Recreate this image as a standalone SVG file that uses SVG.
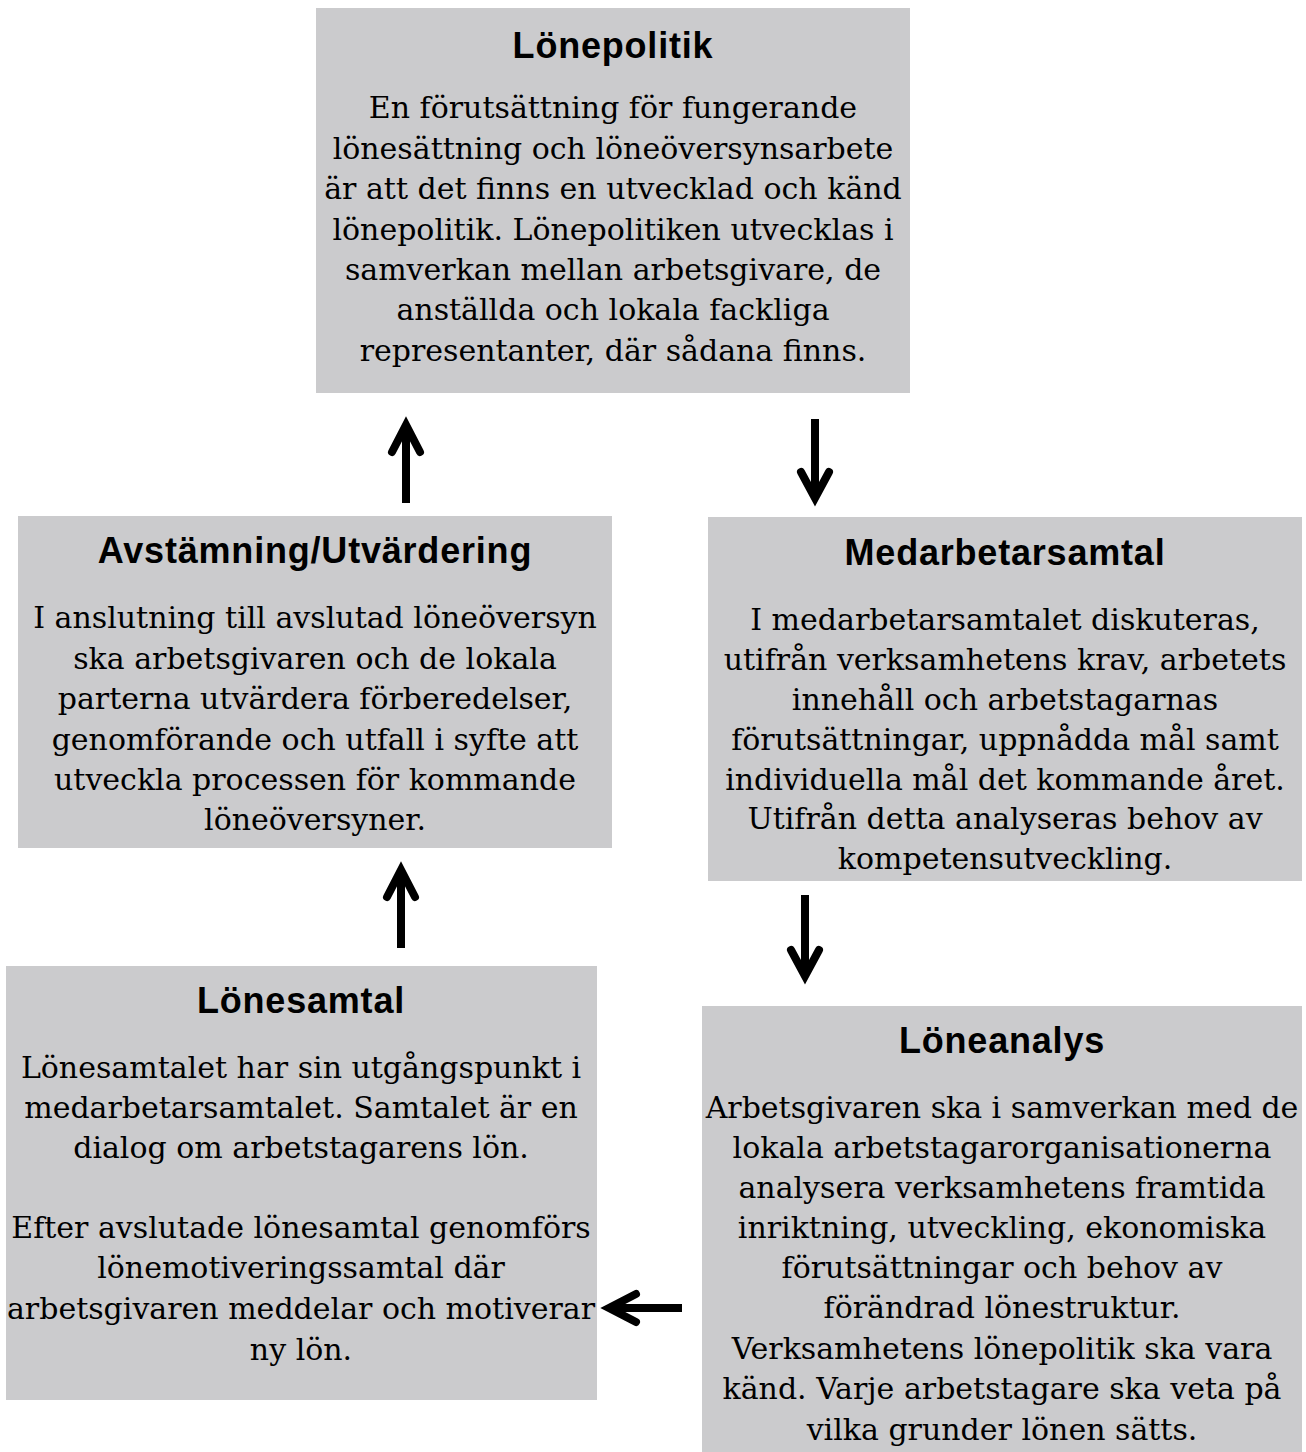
<svg xmlns="http://www.w3.org/2000/svg" width="1306" height="1452" viewBox="0 0 1306 1452">
<style>
.box{fill:#cbcbcd}
.t{font-family:"Liberation Sans",Arial,sans-serif;font-weight:bold;font-size:36px;letter-spacing:0.8px;text-anchor:middle;fill:#000}
.b{font-family:"DejaVu Serif",Georgia,serif;font-size:30px;text-anchor:middle;fill:#000}
.arr{stroke:#000;stroke-width:8;fill:none;stroke-linecap:butt}
.head{stroke:#000;stroke-width:8;fill:none;stroke-linecap:round;stroke-linejoin:miter}
</style>
<rect width="1306" height="1452" fill="#fff"/>
<g id="lonepolitik">
<rect class="box" x="316" y="8" width="594" height="385"/>
<text class="t" x="613" y="58">Lönepolitik</text>
<text class="b" x="613" y="118">En förutsättning för fungerande</text>
<text class="b" x="613" y="159">lönesättning och löneöversynsarbete</text>
<text class="b" x="613" y="199">är att det finns en utvecklad och känd</text>
<text class="b" x="613" y="240">lönepolitik. Lönepolitiken  utvecklas i</text>
<text class="b" x="613" y="280">samverkan mellan arbetsgivare, de</text>
<text class="b" x="613" y="320">anställda och lokala fackliga</text>
<text class="b" x="613" y="361">representanter,  där sådana finns.</text>
</g>
<g id="avstamning">
<rect class="box" x="18" y="516" width="594" height="332"/>
<text class="t" x="315" y="563">Avstämning/Utvärdering</text>
<text class="b" x="315" y="628">I anslutning till avslutad löneöversyn</text>
<text class="b" x="315" y="669">ska arbetsgivaren och de lokala</text>
<text class="b" x="315" y="709">parterna utvärdera förberedelser,</text>
<text class="b" x="315" y="750">genomförande och utfall i syfte att</text>
<text class="b" x="315" y="790">utveckla processen för kommande</text>
<text class="b" x="315" y="830">löneöversyner.</text>
</g>
<g id="medarbetarsamtal">
<rect class="box" x="708" y="517" width="594" height="364"/>
<text class="t" x="1005" y="565">Medarbetarsamtal</text>
<text class="b" x="1005" y="630">I medarbetarsamtalet diskuteras,</text>
<text class="b" x="1005" y="670">utifrån verksamhetens  krav, arbetets</text>
<text class="b" x="1005" y="710">innehåll och arbetstagarnas</text>
<text class="b" x="1005" y="750">förutsättningar, uppnådda mål samt</text>
<text class="b" x="1005" y="790">individuella mål det kommande året.</text>
<text class="b" x="1005" y="829">Utifrån detta analyseras behov av</text>
<text class="b" x="1005" y="869">kompetensutveckling.</text>
</g>
<g id="lonesamtal">
<rect class="box" x="6" y="966" width="591" height="434"/>
<text class="t" x="301" y="1013">Lönesamtal</text>
<text class="b" x="301" y="1078">Lönesamtalet har sin utgångspunkt i</text>
<text class="b" x="301" y="1118">medarbetarsamtalet. Samtalet är en</text>
<text class="b" x="301" y="1158">dialog om arbetstagarens lön.</text>
<text class="b" x="301" y="1238">Efter avslutade lönesamtal genomförs</text>
<text class="b" x="301" y="1278">lönemotiveringssamtal  där</text>
<text class="b" x="301" y="1319">arbetsgivaren meddelar och motiverar</text>
<text class="b" x="301" y="1360">ny lön.</text>
</g>
<g id="loneanalys">
<rect class="box" x="702" y="1006" width="600" height="446"/>
<text class="t" x="1002" y="1053">Löneanalys</text>
<text class="b" x="1002" y="1118">Arbetsgivaren ska i samverkan  med de</text>
<text class="b" x="1002" y="1158">lokala arbetstagarorganisationerna</text>
<text class="b" x="1002" y="1198">analysera verksamhetens  framtida</text>
<text class="b" x="1002" y="1238">inriktning, utveckling, ekonomiska</text>
<text class="b" x="1002" y="1278">förutsättningar och behov av</text>
<text class="b" x="1002" y="1318">förändrad lönestruktur.</text>
<text class="b" x="1002" y="1359">Verksamhetens  lönepolitik ska vara</text>
<text class="b" x="1002" y="1399">känd. Varje arbetstagare ska veta på</text>
<text class="b" x="1002" y="1440">vilka grunder lönen sätts.</text>
</g>
<g id="connectors">
<path class="arr" d="M406 503 V430"/>
<path class="head" d="M392 452 L406 425 L420 452"/>
<path class="arr" d="M815 419 V494"/>
<path class="head" d="M801 472 L815 498 L829 472"/>
<path class="arr" d="M401 948 V874"/>
<path class="head" d="M387 897 L401 870 L415 897"/>
<path class="arr" d="M805 895 V972"/>
<path class="head" d="M791 950 L805 976 L819 950"/>
<path class="arr" d="M682 1308 H614"/>
<path class="head" d="M636 1294 L609 1308 L636 1322"/>
</g>
</svg>
